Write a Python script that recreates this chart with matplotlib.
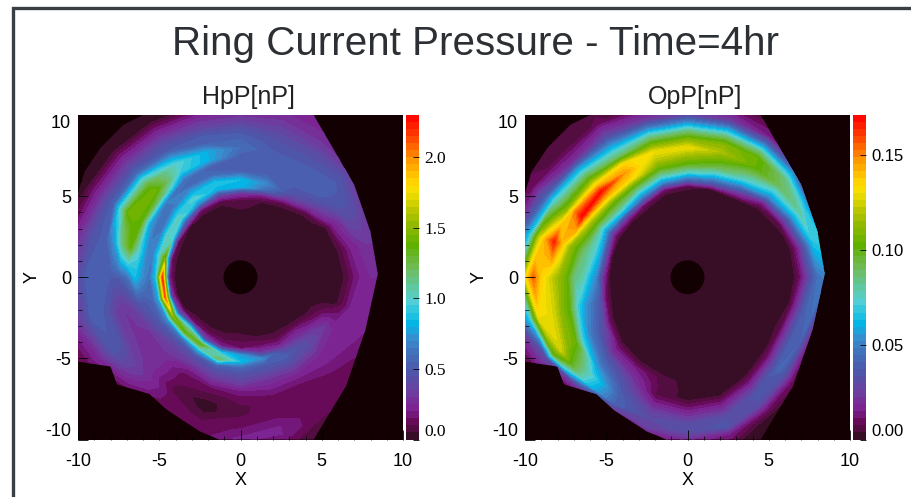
import numpy as np
import matplotlib
matplotlib.use('Agg')
import matplotlib.pyplot as plt
from matplotlib.colors import LinearSegmentedColormap
from matplotlib.lines import Line2D
from matplotlib.patches import Circle, Polygon

plt.rcParams['font.family'] = ['Liberation Sans', 'DejaVu Sans']
plt.rcParams['axes.unicode_minus'] = False

title = 'Ring Current Pressure - Time=4hr'

# grid of the model, radius in Re and angle in degrees from +X
radii = [1, 3.2, 3.6, 4, 4.4, 4.8, 5.2, 5.6, 6, 6.5, 7, 7.5, 8, 8.5, 9, 9.5, 10, 11, 14.5]
angles = list(range(0, 360, 15))

# one row per angle, one column per radius
hp_table = [
    [.02, .02, .02, .02, .02, .02, .02, .02, .02, .06, .15, .22, .25, .25, .2, .2, .2, .2, .2],
    [.02, .02, .02, .02, .02, .02, .02, .02, .02, .1, .2, .25, .3, .3, .2, .2, .2, .2, .2],
    [.02, .02, .02, .02, .02, .02, .02, .02, .03, .2, .3, .42, .42, .35, .25, .2, .2, .2, .2],
    [.02, .02, .02, .02, .02, .02, .02, .08, .28, .42, .5, .52, .52, .48, .4, .3, .25, .2, .1],
    [.02, .02, .02, .02, .02, .02, .08, .3, .45, .5, .52, .52, .5, .45, .4, .32, .27, .2, .1],
    [.02, .02, .02, .02, .02, .05, .2, .6, .7, .55, .52, .5, .5, .47, .42, .36, .3, .2, .05],
    [.02, .02, .02, .02, .08, .1, .3, .85, .85, .55, .5, .52, .6, .55, .48, .38, .28, .1, .03],
    [.02, .02, .02, .02, .02, .08, .35, .8, .9, .6, .5, .8, .8, .55, .5, .38, .28, .04, .03],
    [.02, .02, .02, .02, .02, .15, .7, 1.0, .8, .55, .65, .95, 1.0, .75, .5, .42, .3, .05, .02],
    [.02, .02, .02, .02, .05, .5, 1.05, .85, .6, .65, 1.2, 1.45, 1.3, 1.0, .6, .42, .3, .05, .02],
    [.02, .02, .02, .02, .1, .95, 1.0, .65, .6, .8, 1.35, 1.45, 1.4, 1.0, .55, .42, .28, .04, .02],
    [.02, .02, .02, .02, .15, 1.4, .95, .65, .7, 1.0, 1.35, 1.15, .75, .55, .5, .45, .33, .1, .05],
    [.02, .02, .02, .02, .2, 2.2, .9, .6, .7, .85, .6, .5, .5, .52, .55, .52, .4, .2, .1],
    [.02, .02, .02, .02, .3, 2.1, .8, .55, .5, .45, .35, .3, .35, .48, .52, .52, .4, .2, .1],
    [.02, .02, .02, .06, .5, 1.5, .7, .5, .42, .3, .28, .3, .35, .45, .48, .38, .25, .1, .05],
    [.02, .02, .05, .15, 1.0, 1.35, .6, .42, .35, .3, .28, .28, .28, .3, .25, .18, .1, .05, .02],
    [.02, .02, .05, .12, .4, 1.35, .8, .45, .35, .2, .12, .11, .07, .12, .12, .08, .05, .03, .02],
    [.02, .02, .05, .1, .2, .9, 1.2, .55, .42, .3, .15, .08, .03, .03, .09, .12, .12, .08, .02],
    [.02, .02, .06, .1, .15, .75, .85, .55, .45, .35, .2, .12, .09, .09, .13, .16, .22, .1, .02],
    [.02, .02, .02, .08, .15, .3, .7, .5, .42, .3, .22, .15, .12, .13, .15, .2, .2, .1, .02],
    [.02, .02, .02, .05, .1, .2, .4, .52, .45, .32, .22, .15, .12, .12, .12, .1, .1, .08, .02],
    [.02, .02, .02, .02, .1, .22, .3, .4, .4, .3, .22, .2, .16, .12, .1, .1, .1, .08, .02],
    [.02, .02, .02, .02, .02, .08, .15, .25, .3, .25, .22, .22, .2, .18, .15, .12, .1, .08, .02],
    [.02, .02, .02, .02, .02, .02, .02, .02, .02, .1, .2, .22, .22, .22, .2, .18, .15, .1, .05],
]

op_table = [
    [.002, .002, .002, .002, .002, .002, .002, .002, .002, .002, .012, .03, .045, .05, .03, .01, .005, .002, .002],
    [.002, .002, .002, .002, .002, .002, .002, .002, .002, .002, .015, .04, .065, .07, .02, .01, .005, .002, .002],
    [.002, .002, .002, .002, .002, .002, .002, .002, .002, .005, .03, .06, .08, .06, .02, .01, .005, .002, .002],
    [.002, .002, .002, .002, .002, .002, .002, .002, .002, .015, .05, .07, .09, .085, .06, .03, .01, .003, .002],
    [.002, .002, .002, .002, .002, .002, .002, .002, .02, .05, .075, .09, .105, .105, .08, .045, .015, .005, .002],
    [.002, .002, .002, .002, .002, .002, .002, .003, .035, .065, .09, .105, .118, .11, .085, .055, .025, .005, .002],
    [.002, .002, .002, .002, .002, .002, .002, .005, .04, .075, .1, .115, .13, .11, .085, .055, .028, .01, .002],
    [.002, .002, .002, .002, .002, .002, .002, .012, .05, .08, .105, .12, .13, .105, .08, .05, .025, .005, .002],
    [.002, .002, .002, .002, .002, .002, .01, .045, .07, .1, .135, .145, .135, .09, .07, .05, .03, .008, .002],
    [.002, .002, .002, .002, .002, .002, .02, .06, .085, .105, .14, .168, .135, .105, .08, .055, .02, .005, .002],
    [.002, .002, .002, .002, .002, .002, .015, .045, .07, .1, .125, .17, .15, .11, .09, .07, .04, .01, .002],
    [.002, .002, .002, .002, .002, .002, .03, .06, .075, .085, .1, .115, .14, .165, .145, .12, .07, .02, .002],
    [.002, .002, .002, .002, .002, .002, .02, .05, .062, .08, .085, .105, .115, .125, .135, .155, .13, .04, .002],
    [.002, .002, .002, .002, .002, .002, .01, .035, .045, .055, .07, .1, .11, .125, .13, .13, .07, .02, .002],
    [.002, .002, .002, .002, .002, .002, .002, .012, .03, .04, .05, .07, .105, .11, .125, .1, .03, .008, .002],
    [.002, .002, .002, .002, .002, .002, .002, .002, .01, .02, .035, .045, .06, .075, .07, .025, .005, .002, .002],
    [.002, .002, .002, .002, .002, .002, .002, .002, .004, .015, .022, .03, .035, .04, .04, .015, .003, .002, .002],
    [.002, .002, .002, .002, .002, .002, .002, .002, .002, .006, .007, .007, .015, .025, .03, .027, .015, .003, .002],
    [.002, .002, .002, .002, .002, .002, .002, .002, .002, .002, .002, .002, .01, .02, .03, .032, .02, .004, .002],
    [.002, .002, .002, .002, .002, .002, .002, .002, .002, .002, .002, .002, .012, .022, .033, .035, .015, .002, .002],
    [.002, .002, .002, .002, .002, .002, .002, .002, .002, .002, .002, .012, .026, .037, .03, .012, .002, .002, .002],
    [.002, .002, .002, .002, .002, .002, .002, .002, .002, .002, .012, .03, .043, .032, .012, .005, .002, .002, .002],
    [.002, .002, .002, .002, .002, .002, .002, .002, .002, .006, .025, .04, .04, .015, .005, .002, .002, .002, .002],
    [.002, .002, .002, .002, .002, .002, .002, .002, .002, .004, .022, .04, .045, .02, .005, .002, .002, .002, .002],
]

# edge of the model domain, black outside it
edge_x = [-10, -9.6, -8.6, -7.2, -6, 4.5, 7.0, 8.0, 8.45, 7.7, 6.5, 4.5, -1.3, -2.5, -4.5, -5.6, -7.6, -8, -10]
edge_y = [5.2, 6.5, 8, 9.4, 10, 10, 5.7, 2.8, 0.2, -3.2, -6.7, -10, -10, -9.5, -8.2, -7.2, -6.6, -5.5, -5.2]

hp_ticks = [0.0, 0.5, 1.0, 1.5, 2.0]
op_ticks = [0.00, 0.05, 0.10, 0.15]

cmap = LinearSegmentedColormap.from_list('ram', [
    (0.0, '#2a0a20'), (0.012, '#40102a'), (0.05, '#660a58'), (0.09, '#7d2090'),
    (0.15, '#6b40a0'), (0.2, '#5055a8'), (0.25, '#4568b5'), (0.31, '#3a8ccc'),
    (0.36, '#00b8e8'), (0.42, '#50d0d8'), (0.47, '#60c8a0'), (0.53, '#70ba55'),
    (0.6, '#60b000'), (0.68, '#a0bc00'), (0.74, '#dcd400'), (0.78, '#ffe000'),
    (0.86, '#ff9800'), (0.92, '#ff5000'), (1.0, '#ff0000')])

W, H = 911, 497
fig = plt.figure(figsize=(W / 100, H / 100), dpi=100)


def box(x0, x1, y0, y1):
    return [x0 / W, 1 - y1 / H, (x1 - x0) / W, (y1 - y0) / H]


def panel(table, name, vmax, ticks, fmt, x0, cb_font):
    ax = fig.add_axes(box(x0, x0 + 325, 115, 439.5))
    cax = fig.add_axes(box(x0 + 328, x0 + 340.5, 115, 439.5))
    ax.set_facecolor('#130003')

    # close the circle by repeating the first angle
    th = np.deg2rad(angles + [360])
    vals = np.array(table + [table[0]])
    rr, tt = np.meshgrid(radii, th)
    xx = rr * np.cos(tt)
    yy = rr * np.sin(tt)

    levels = np.linspace(0, vmax, 47)
    cs = ax.contourf(xx, yy, vals, levels=levels, cmap=cmap)
    clip = Polygon(np.column_stack([edge_x, edge_y]), closed=True, transform=ax.transData,
                   facecolor='none', edgecolor='none')
    ax.add_patch(clip)
    cs.set_clip_path(clip)
    ax.add_patch(Circle((0, 0), 1, color='#130003', zorder=5))

    ax.set_xlim(-10, 10)
    ax.set_ylim(-10, 10)
    ax.set_xticks([-10, -5, 0, 5, 10])
    ax.set_yticks([-10, -5, 0, 5, 10])
    ax.set_xticks(np.arange(-10, 11, 1), minor=True)
    ax.set_yticks(np.arange(-10, 11, 1), minor=True)
    ax.tick_params(which='major', direction='in', length=7, width=0.6, labelsize=13, color='black')
    ax.tick_params(which='minor', direction='in', length=3, width=0.5, color='black')
    ax.tick_params(axis='x', pad=10)
    ax.tick_params(axis='y', pad=5)
    for s in ax.spines.values():
        s.set_visible(False)
    ax.get_yticklabels()[0].set_va('bottom')
    ax.get_yticklabels()[-1].set_va('top')
    ax.set_xlabel('X', fontsize=13, labelpad=1)
    ax.set_ylabel('Y', fontsize=13, labelpad=3)
    fig.text((x0 + 170) / W, 1 - 97 / H, name, fontsize=18, color='#222222', ha='center', va='center')

    cb = fig.colorbar(cs, cax=cax)
    cb.outline.set_visible(False)
    cb.set_ticks(ticks)
    cb.set_ticklabels([fmt % t for t in ticks])
    cax.set_ylim(0, vmax)
    cax.tick_params(direction='in', length=4, width=0.6, pad=4, color='black')
    for lab in cax.get_yticklabels():
        lab.set_fontfamily(cb_font[0])
        lab.set_fontsize(cb_font[1])
    cax.get_yticklabels()[0].set_va('bottom')


panel(hp_table, 'HpP[nP]', 2.3, hp_ticks, '%.1f', 78, ('Liberation Serif', 12.5))
panel(op_table, 'OpP[nP]', 0.171, op_ticks, '%.2f', 525, ('Liberation Sans', 12))

fig.text(475 / W, 1 - 44 / H, title, fontsize=29.1, color='#2c3035', ha='center', va='center')

# frame of the slide behind the plots
fig.add_artist(Line2D([12.5 / W, 12.5 / W, 1], [0, 1 - 7.5 / H, 1 - 7.5 / H], color='#3a3f44', lw=2.4,
                      solid_joinstyle='miter'))

fig.savefig('out.png', dpi=100)
